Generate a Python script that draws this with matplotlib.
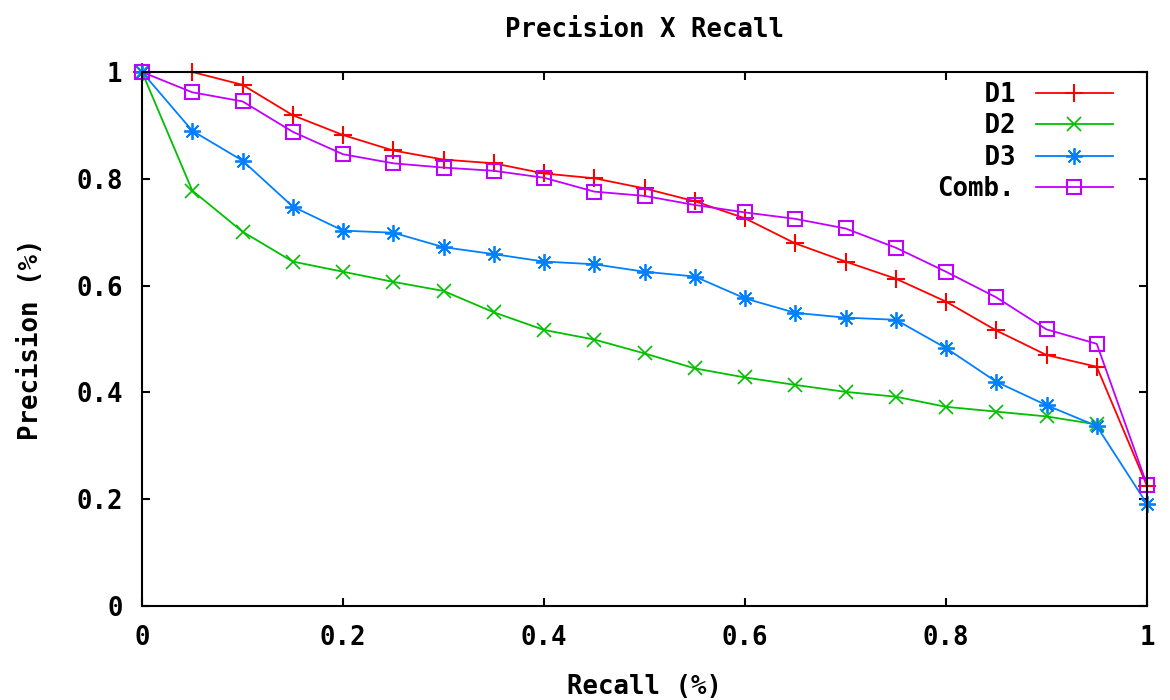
import matplotlib
matplotlib.use("Agg")
import matplotlib.pyplot as plt

plt.rcParams['font.family'] = ['DejaVu Sans Mono']
plt.rcParams['font.weight'] = 'bold'

recall = [0.0, 0.05, 0.1, 0.15, 0.2, 0.25, 0.3, 0.35, 0.4, 0.45, 0.5,
          0.55, 0.6, 0.65, 0.7, 0.75, 0.8, 0.85, 0.9, 0.95, 1.0]

d1 = [1.0, 1.0, 0.976, 0.919, 0.882, 0.853, 0.836, 0.829, 0.810, 0.801, 0.782,
      0.758, 0.726, 0.679, 0.645, 0.613, 0.570, 0.516, 0.470, 0.448, 0.225]
d2 = [1.0, 0.778, 0.701, 0.645, 0.626, 0.607, 0.590, 0.550, 0.517, 0.499, 0.473,
      0.445, 0.428, 0.414, 0.401, 0.392, 0.373, 0.364, 0.355, 0.340]
d3 = [1.0, 0.890, 0.834, 0.748, 0.703, 0.699, 0.672, 0.659, 0.645, 0.640, 0.626,
      0.617, 0.576, 0.549, 0.540, 0.536, 0.483, 0.420, 0.376, 0.337, 0.191]
comb = [1.0, 0.962, 0.945, 0.888, 0.846, 0.829, 0.821, 0.815, 0.802, 0.776, 0.768,
        0.751, 0.737, 0.725, 0.707, 0.671, 0.626, 0.578, 0.518, 0.491, 0.227]

x_ticks = [0, 0.2, 0.4, 0.6, 0.8, 1]
x_tick_labels = ['0', '0.2', '0.4', '0.6', '0.8', '1']
y_ticks = [0, 0.2, 0.4, 0.6, 0.8, 1]
y_tick_labels = ['0', '0.2', '0.4', '0.6', '0.8', '1']

fs = 18.5

fig = plt.figure(figsize=(11.7, 7.0), dpi=100)
ax = fig.add_axes([142 / 1170, 1 - 606 / 700, 1005 / 1170, 534 / 700])

ax.plot(recall, d1, color='#ff0000', lw=1.3, marker='+', ms=13, mew=1.5,
        label='   D1', clip_on=False)
ax.plot(recall[:len(d2)], d2, color='#00c000', lw=1.3, marker='x', ms=10, mew=1.2,
        label='   D2', clip_on=False)
ax.plot(recall, d3, color='#0080ff', lw=1.3, marker=(8, 2, 0), ms=12, mew=1.3,
        label='   D3', clip_on=False)
ax.plot(recall, comb, color='#c000ff', lw=1.3, marker='s', ms=10, mew=1.5,
        fillstyle='none', label='Comb.', clip_on=False)

ax.set_xlim(0, 1)
ax.set_ylim(0, 1)
ax.set_xticks(x_ticks)
ax.set_xticklabels(x_tick_labels)
ax.set_yticks(y_ticks)
ax.set_yticklabels(y_tick_labels)
ax.tick_params(direction='in', length=6, width=1.5, top=True, right=True,
               labelsize=fs, pad=14)
for s in ax.spines.values():
    s.set_linewidth(1.5)

ax.set_title('Precision X Recall', fontsize=fs, fontweight='bold', pad=25)
ax.set_xlabel('Recall (%)', fontsize=fs, fontweight='bold', labelpad=16)
ax.set_ylabel('Precision (%)', fontsize=fs, fontweight='bold', labelpad=23)

leg = ax.legend(loc='upper right', bbox_to_anchor=(1 - 24 / 1005, 1.0),
                markerfirst=False, frameon=False,
                fontsize=fs, handlelength=3.0, handletextpad=0.8,
                labelspacing=0.2, borderaxespad=0.0)

fig.savefig('out.png', dpi=100)
